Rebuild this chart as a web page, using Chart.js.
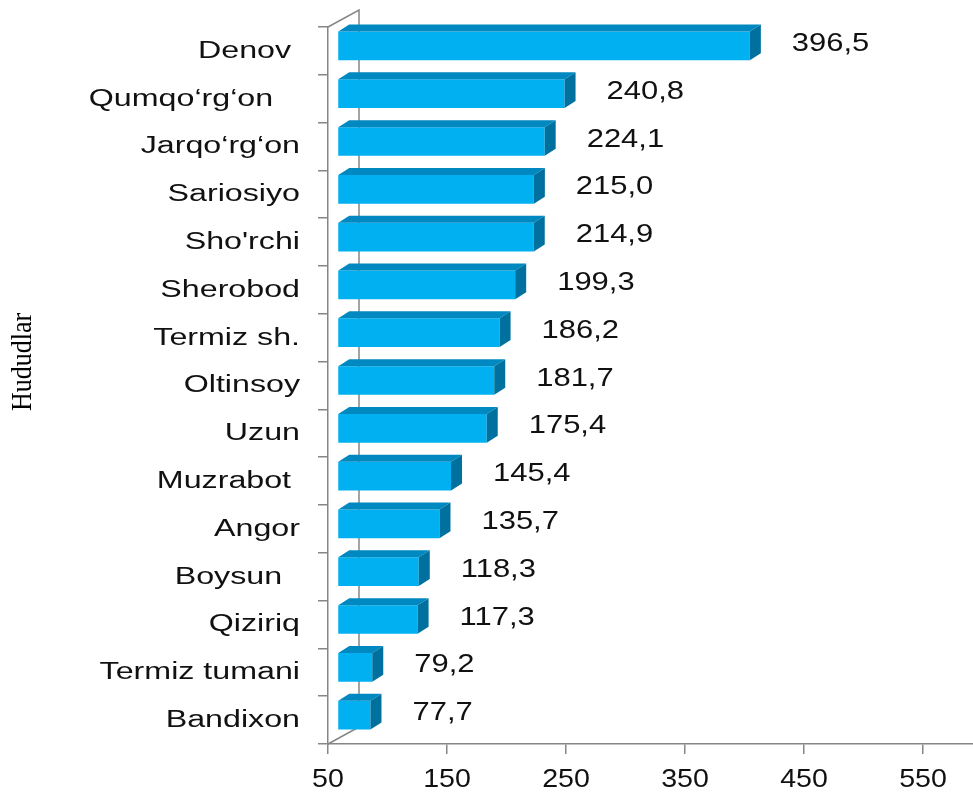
<!DOCTYPE html>
<html>
<head>
<meta charset="utf-8">
<script src="https://cdn.jsdelivr.net/npm/chart.js@4.4.1/dist/chart.umd.min.js"></script>
<style>
html,body{margin:0;padding:0;background:#fff;overflow:hidden}
#wrap{width:973px;height:796px;position:relative}
</style>
</head>
<body>
<div id="wrap"><canvas id="c"></canvas></div>
<script>
// ---- data ----
const categories = ["Denov ", "Qumqo\u2018rg\u2018on   ", "Jarqo\u2018rg\u2018on", "Sariosiyo", "Sho'rchi", "Sherobod", "Termiz sh.", "Oltinsoy", "Uzun", "Muzrabot ", "Angor", "Boysun  ", "Qiziriq", "Termiz tumani", "Bandixon"];
const values = [396.5, 240.8, 224.1, 215.0, 214.9, 199.3, 186.2, 181.7, 175.4, 145.4, 135.7, 118.3, 117.3, 79.2, 77.7];
const xTicks = [50, 150, 250, 350, 450, 550];
const xMin = 50;
const xMax = 592;
const axisTitle = "Hududlar";

// ---- styles ----
const AXIS = '#868686';
const FRONT = '#00B0F0';
const TOP = '#0089C0';
const SIDE = '#00719E';
const ROW = {dx: 9.5, dy: -5};     // depth position of bar row
const FACE = {dx: 11, dy: -7};     // 3D face extrusion

function fmt(v) { return v.toFixed(1).replace('.', ','); }

function drawText(ctx, text, x, y, opts) {
  ctx.save();
  ctx.translate(x, y);
  ctx.scale(opts.sx || 1, 1);
  if (opts.rot) ctx.rotate(opts.rot);
  ctx.font = opts.font;
  ctx.fillStyle = opts.color || '#000';
  ctx.textAlign = opts.align || 'left';
  ctx.textBaseline = 'middle';
  ctx.fillText(text, 0, 0);
  ctx.restore();
}

const threeD = {
  id: 'threeD',
  beforeDatasetsDraw(chart) {
    const {ctx, chartArea: a} = chart;
    ctx.save();
    ctx.strokeStyle = AXIS;
    ctx.lineWidth = 1.5;
    ctx.beginPath();
    ctx.moveTo(a.left, a.top);
    ctx.lineTo(a.left + 31, a.top - 17);
    ctx.lineTo(a.left + 31, a.bottom - 17);
    ctx.lineTo(a.left, a.bottom);
    ctx.stroke();
    ctx.restore();
    ctx.save();
    ctx.translate(ROW.dx, ROW.dy);
  },
  afterDatasetsDraw(chart) {
    const {ctx} = chart;
    const meta = chart.getDatasetMeta(0);
    meta.data.forEach(bar => {
      const {x, y, base, height} = bar.getProps(['x', 'y', 'base', 'height'], true);
      const t = y - height / 2, b = y + height / 2;
      ctx.fillStyle = TOP;
      ctx.beginPath();
      ctx.moveTo(base, t); ctx.lineTo(x, t);
      ctx.lineTo(x + FACE.dx, t + FACE.dy); ctx.lineTo(base + FACE.dx, t + FACE.dy);
      ctx.closePath(); ctx.fill();
      ctx.fillStyle = SIDE;
      ctx.beginPath();
      ctx.moveTo(x, t); ctx.lineTo(x + FACE.dx, t + FACE.dy);
      ctx.lineTo(x + FACE.dx, b + FACE.dy); ctx.lineTo(x, b);
      ctx.closePath(); ctx.fill();
    });
    ctx.restore();
  },
  afterDraw(chart) {
    const {ctx, chartArea: a} = chart;
    const ys = chart.scales.y, xs = chart.scales.x;
    // category labels
    chart.data.labels.forEach((lab, i) => {
      drawText(ctx, lab, a.left - 28, ys.getPixelForTick(i) + 0.5,
        {font: '23px "Liberation Sans", Arial, sans-serif', sx: 1.4, align: 'right', color: '#111'});
    });
    // x tick labels
    xs.ticks.forEach(t => {
      drawText(ctx, String(t.value), xs.getPixelForValue(t.value), a.bottom + 36,
        {font: '26px "Liberation Sans", Arial, sans-serif', sx: 1.1, align: 'center', color: '#111'});
    });
    // value labels
    const meta = chart.getDatasetMeta(0);
    meta.data.forEach((bar, i) => {
      const v = chart.data.datasets[0].data[i];
      drawText(ctx, fmt(v), bar.x + ROW.dx + FACE.dx + 31, bar.y - 7,
        {font: '26px "Liberation Sans", Arial, sans-serif', sx: 1.19, align: 'left', color: '#111'});
    });
    // axis title
    drawText(ctx, axisTitle, 23, 362,
      {font: '26px "Liberation Serif", "Times New Roman", serif', sx: 1.17, rot: -Math.PI / 2, align: 'center'});
  }
};

new Chart(document.getElementById('c'), {
  type: 'bar',
  data: {
    labels: categories,
    datasets: [{
      data: values,
      base: xMin,
      backgroundColor: FRONT,
      borderWidth: 0,
      barPercentage: 0.6,
      categoryPercentage: 1,
      clip: false
    }]
  },
  options: {
    indexAxis: 'y',
    responsive: true,
    maintainAspectRatio: false,
    animation: false,
    layout: {padding: {top: 27, right: 0, bottom: 0, left: 0}},
    plugins: {legend: {display: false}, tooltip: {enabled: false}},
    scales: {
      x: {
        type: 'linear', min: xMin, max: xMax, position: 'bottom',
        afterBuildTicks: s => { s.ticks = xTicks.map(v => ({value: v})); },
        afterFit: s => { s.height = 52; },
        ticks: {display: false},
        grid: {drawOnChartArea: false, drawTicks: true, tickLength: 10, color: AXIS, lineWidth: 1.5},
        border: {display: true, color: AXIS, width: 1.5}
      },
      y: {
        type: 'category',
        afterFit: s => { s.width = 328; },
        ticks: {display: false},
        grid: {offset: true, drawOnChartArea: false, drawTicks: true, tickLength: 10, color: AXIS, lineWidth: 1.5},
        border: {display: true, color: AXIS, width: 1.5}
      }
    }
  },
  plugins: [threeD]
});
</script>
</body>
</html>
